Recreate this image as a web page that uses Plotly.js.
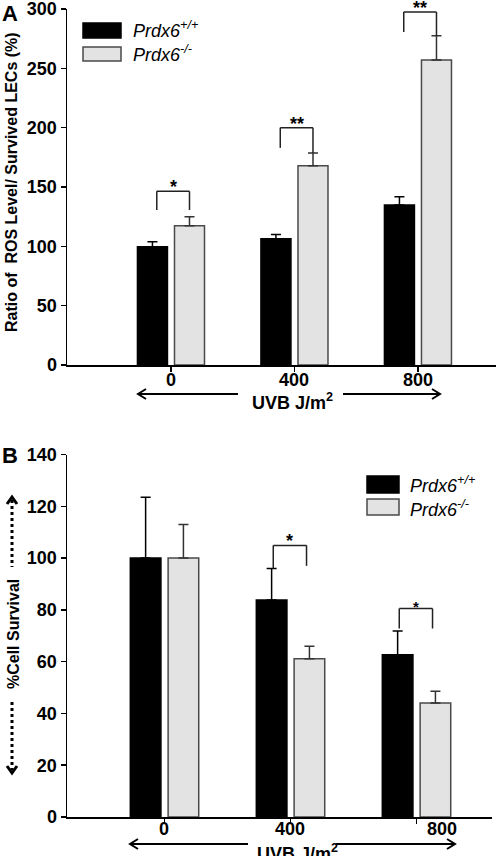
<!DOCTYPE html>
<html>
<head>
<meta charset="utf-8">
<script src="https://cdn.plot.ly/plotly-3.0.1.min.js"></script>
<style>html,body{margin:0;padding:0;background:#fff;}#chart{width:496px;height:856px;}</style>
</head>
<body>
<div id="chart"></div>
<script>
// ---------- data ----------
const categories = ['0', '400', '800'];
const seriesNames = ['Prdx6<sup>+/+</sup>', 'Prdx6<sup>-/-</sup>'];

// Panel A: ratio of ROS level / survived LECs (%)
const rosWT    = [99.7, 106.4, 134.8];
const rosWTErr = [4.2, 3.6, 7.0];
const rosKO    = [117.4, 168.0, 257.0];
const rosKOErr = [7.6, 10.6, 20.5];

// Panel B: % cell survival
const survWT    = [100, 83.8, 62.7];
const survWTErr = [23.5, 12.2, 9.1];
const survKO    = [100, 61.1, 44.0];
const survKOErr = [13.0, 4.8, 4.6];

// significance brackets: category, top, left leg end, right leg end, label
const sigACat   = ['0', '400', '800'];
const sigATop   = [146.4, 200, 297.5];
const sigALeft  = [130.6, 183, 280.6];
const sigARight = [130.6, 178.6, 277.2];
const sigALabel = ['*', '**', '**'];

const sigBCat   = ['400', '800'];
const sigBTop   = [104.9, 80.5];
const sigBLeft  = [96, 72.8];
const sigBRight = [97, 72.8];
const sigBLabel = ['*', '*'];

const yTicksA = [0, 50, 100, 150, 200, 250, 300];
const yTicksB = [0, 20, 40, 60, 80, 100, 120, 140];

// ---------- styling helpers ----------
const FONT = 'Liberation Sans, Arial, Helvetica, sans-serif';
const W = 496, H = 856;
const px = x => x / W;
const py = y => 1 - y / H;
const BLACK = '#000000';
const GREY = '#e3e3e3';
const GREY_LINE = '#4a4a4a';

function bar(x, y, err, name, fill, line, xa, ya) {
  return {
    type: 'bar', x: x, y: y, name: name, xaxis: xa, yaxis: ya,
    marker: {color: fill, line: {color: line, width: 1.5}},
    error_y: {type: 'data', symmetric: false, array: err, arrayminus: err.map(() => 0),
              color: line === BLACK ? BLACK : '#333', thickness: 1.5, width: 5},
    showlegend: false, hoverinfo: 'skip'
  };
}

const data = [
  bar(categories, rosWT, rosWTErr, seriesNames[0], BLACK, BLACK, 'x', 'y'),
  bar(categories, rosKO, rosKOErr, seriesNames[1], GREY, GREY_LINE, 'x', 'y'),
  bar(categories, survWT, survWTErr, seriesNames[0], BLACK, BLACK, 'x2', 'y2'),
  bar(categories, survKO, survKOErr, seriesNames[1], GREY, GREY_LINE, 'x2', 'y2')
];

const shapes = [];
const annotations = [];

function bracket(cat, top, lb, rb, label, xa, ya, dxL, dxR, starSize) {
  const c = categories.indexOf(cat);
  const xl = c + dxL, xr = c + dxR;
  const ln = {color: '#222', width: 1.5};
  shapes.push({type: 'line', xref: xa, yref: ya, x0: xl, x1: xr, y0: top, y1: top, line: ln});
  shapes.push({type: 'line', xref: xa, yref: ya, x0: xl, x1: xl, y0: top, y1: lb, line: ln});
  shapes.push({type: 'line', xref: xa, yref: ya, x0: xr, x1: xr, y0: top, y1: rb, line: ln});
  annotations.push({xref: xa, yref: ya, x: (xl + xr) / 2, y: top, yanchor: 'bottom', yshift: -8,
    text: label, showarrow: false, font: {family: FONT, size: starSize, color: '#000', weight: 'bold'}});
}
sigACat.forEach((c, i) => bracket(c, sigATop[i], sigALeft[i], sigARight[i], sigALabel[i], 'x', 'y', -0.115, 0.15, 18));
sigBCat.forEach((c, i) => bracket(c, sigBTop[i], sigBLeft[i], sigBRight[i], sigBLabel[i], 'x2', 'y2', -0.137, 0.127, i === 0 ? 18 : 15));

// x tick labels (category names) placed just under each axis
categories.forEach((c, i) => {
  annotations.push({xref: 'x', yref: 'paper', x: i, y: py(380), yanchor: 'middle', text: c,
    showarrow: false, font: {family: FONT, size: 18, color: '#000', weight: 'bold'}});
  annotations.push({xref: 'x2', yref: 'paper', x: i, y: py(829), yanchor: 'middle', text: c,
    xshift: i === 2 ? 25 : -1, showarrow: false,
    font: {family: FONT, size: 18, color: '#000', weight: 'bold'}});
});

// legends (drawn as boxes + text)
function legendItem(x0, y0, x1, y1, fill, line, text, tx, ty) {
  shapes.push({type: 'rect', xref: 'paper', yref: 'paper', x0: px(x0), x1: px(x1), y0: py(y1), y1: py(y0),
    fillcolor: fill, line: {color: line, width: 1.5}});
  annotations.push({xref: 'paper', yref: 'paper', x: px(tx), y: py(ty), xanchor: 'left', yanchor: 'middle',
    text: '<i>' + text + '</i>', showarrow: false, font: {family: FONT, size: 18, color: '#000'}});
}
legendItem(83, 23, 121, 38, BLACK, BLACK, seriesNames[0], 131, 30);
legendItem(83, 47, 121, 61, GREY, GREY_LINE, seriesNames[1], 131, 54);
legendItem(367, 476, 399, 493, BLACK, BLACK, seriesNames[0], 408, 484);
legendItem(367, 499, 399, 515, GREY, GREY_LINE, seriesNames[1], 408, 508);

function chevron(x, y, dir, vertical, w) {
  let p;
  if (!vertical) {
    p = `M ${px(x - dir * 8)},${py(y - 5)} L ${px(x)},${py(y)} L ${px(x - dir * 8)},${py(y + 5)}`;
  } else {
    p = `M ${px(x - 5)},${py(y - dir * 7)} L ${px(x)},${py(y)} L ${px(x + 5)},${py(y - dir * 7)}`;
  }
  shapes.push({type: 'path', xref: 'paper', yref: 'paper', path: p, line: {color: '#000', width: w || 2}});
}
function hline(x0, x1, y, dash, w) {
  shapes.push({type: 'line', xref: 'paper', yref: 'paper', x0: px(x0), x1: px(x1), y0: py(y), y1: py(y),
    line: {color: '#000', width: w || 2, dash: dash || 'solid'}});
}
function vline(x, y0, y1, dash, w) {
  shapes.push({type: 'line', xref: 'paper', yref: 'paper', x0: px(x), x1: px(x), y0: py(y0), y1: py(y1),
    line: {color: '#000', width: w || 2, dash: dash || 'solid'}});
}
// panel A arrow
hline(138, 238, 394); chevron(138, 394, -1);
hline(343, 440, 394); chevron(440, 394, 1);
// panel B arrow
hline(130, 248, 844); chevron(130, 844, -1);
hline(336, 455, 844); chevron(455, 844, 1);

// dotted vertical arrows for panel B y title
vline(12, 500, 567, 'dot', 3); chevron(12, 497, -1, true, 3);
vline(12, 702, 770, 'dot', 3); chevron(12, 773, 1, true, 3);

const txtBold = (t, x, y, size, angle, xa) => ({xref: 'paper', yref: 'paper', x: px(x), y: py(y),
  xanchor: xa || 'center', yanchor: 'middle', text: t, showarrow: false, textangle: angle || 0,
  font: {family: FONT, size: size, color: '#000', weight: 'bold'}});

annotations.push(txtBold('UVB J/m<sup>2</sup>', 292, 401, 18));
annotations.push(txtBold('UVB J/m<sup>2</sup>', 297, 852, 18));
annotations.push(txtBold('Ratio of  ROS Level/ Survived LECs (%)', 11, 182, 16, -90));
annotations.push(txtBold('%Cell Survival', 13, 634, 16, -90));
annotations.push(txtBold('A', 10, 13, 22));
annotations.push(txtBold('B', 10, 456, 22));

const axCommon = {
  showline: true, linecolor: '#000', linewidth: 1.5, ticks: 'outside', ticklen: 5, tickwidth: 1.5,
  tickcolor: '#000', showgrid: false, zeroline: false, fixedrange: true, automargin: false,
  ticklabeloverflow: 'allow',
  tickfont: {family: FONT, size: 18, color: '#000', weight: 'bold'}
};

const layout = {
  width: W, height: H,
  margin: {l: 0, r: 0, t: 0, b: 0},
  paper_bgcolor: '#fff', plot_bgcolor: '#fff',
  barmode: 'group', bargap: 0.4, bargroupgap: 0.19,
  showlegend: false,
  xaxis: Object.assign({}, axCommon, {domain: [px(67), 1], anchor: 'y', type: 'category',
    categoryorder: 'array', categoryarray: categories, range: [-0.842, 2.632], showticklabels: false}),
  yaxis: Object.assign({}, axCommon, {domain: [py(365), py(9)], anchor: 'x', range: [0, 300],
    tickvals: yTicksA}),
  xaxis2: Object.assign({}, axCommon, {domain: [px(67), px(492)], anchor: 'y2', type: 'category',
    categoryorder: 'array', categoryarray: categories, range: [-0.774, 2.599], showticklabels: false}),
  yaxis2: Object.assign({}, axCommon, {domain: [py(817), py(454.5)], anchor: 'x2', range: [0, 140],
    tickvals: yTicksB}),
  shapes: shapes,
  annotations: annotations
};

Plotly.newPlot('chart', data, layout, {staticPlot: true, displayModeBar: false});
</script>
</body>
</html>
